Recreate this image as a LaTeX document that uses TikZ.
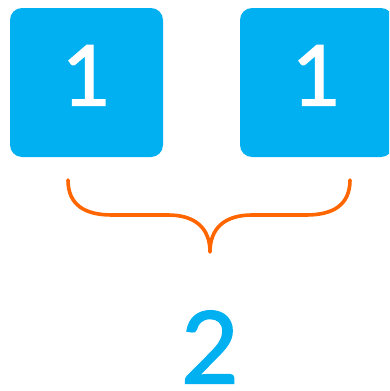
\documentclass[tikz,border=0pt]{standalone}
\usepackage{fontspec}
\setmainfont{Lato}
\newfontfamily\digitfont[FakeBold=1.6]{Lato}
\definecolor{tileblue}{RGB}{0,176,240}
\definecolor{braceorange}{RGB}{255,102,0}

\begin{document}
\begin{tikzpicture}
[x=1pt,y=-1pt,
 tile/.style={fill=tileblue,rounded corners=12pt,minimum width=153pt,minimum height=149pt,inner sep=0pt,
   text=white,font=\digitfont\fontsize{84}{90}\selectfont,text height=61pt,text depth=15pt},
 brace/.style={draw=braceorange,line width=3.6pt,line cap=round,line join=round}]
\clip (0,0) rectangle (389,391);
\useasboundingbox (0,0) rectangle (389,391);

\node[tile] (t1) at (86.5,82.5) {1};
\node[tile] (t2) at (316.5,82.5) {1};

\coordinate (bl) at (68,180);
\coordinate (br) at (350,180);
\coordinate (tip) at (210,252);

\draw[brace] (bl) .. controls (68,205) and (85,215) .. (112,215) -- (168,215)
  .. controls (195,215) and (210,228) .. (tip)
  .. controls (210,228) and (225,215) .. (252,215) -- (306,215)
  .. controls (333,215) and (350,205) .. (br);

\node[text=tileblue,font=\digitfont\fontsize{100}{105}\selectfont,inner sep=0pt] (sum) at (210,347) {2};
\end{tikzpicture}
\end{document}
